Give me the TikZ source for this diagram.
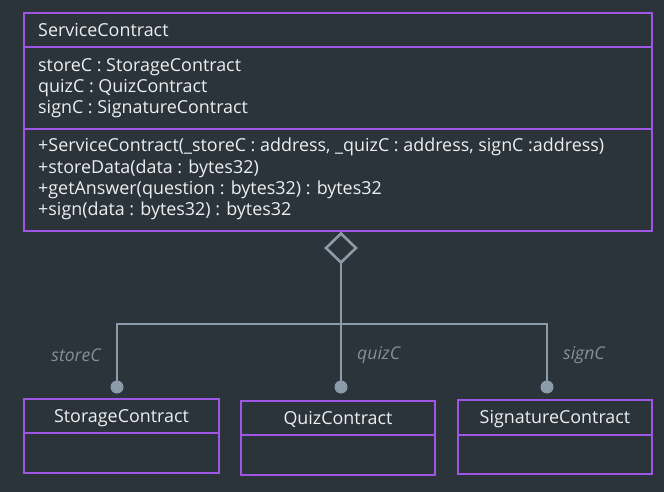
\documentclass[tikz,border=0pt]{standalone}
\usepackage{fontspec}
\setmainfont{Open Sans}
\usetikzlibrary{shapes.geometric,positioning}
\definecolor{bgdark}{RGB}{44,52,59}
\definecolor{umlpurple}{RGB}{160,86,228}
\definecolor{linkgray}{RGB}{140,155,170}
\definecolor{rolegray}{RGB}{135,142,150}
\definecolor{umltext}{RGB}{236,238,240}
\tikzset{
    compart/.style = {draw=umlpurple, line width=2.8pt, rectangle, anchor=north west,
                      inner sep=0pt, outer sep=0pt},
    member/.style  = {anchor=west, text=umltext, inner sep=0pt, align=left,
                      font=\fontsize{17.9}{21.3}\selectfont},
    cname/.style   = {text=umltext, inner sep=0pt, font=\fontsize{17.9}{20}\selectfont},
    role/.style    = {text=rolegray, inner sep=0pt, font=\itshape\fontsize{17.6}{20}\selectfont},
    link/.style    = {draw=linkgray, line width=2.6pt},
    aggr/.style    = {diamond, draw=linkgray, line width=2.6pt, fill=bgdark, inner sep=0pt,
                      minimum width=31pt, minimum height=30pt},
    enddot/.style  = {circle, fill=linkgray, inner sep=0pt, minimum size=13pt},
    hub/.style     = {coordinate}
}

\begin{document}
\begin{tikzpicture}[x=1pt, y=-1pt]
    \fill[bgdark] (0,0) rectangle (664,492);
    \useasboundingbox (0,0) rectangle (664,492);

    % service contract
    \node [compart, minimum width=628pt, minimum height=34pt]  (svc_name) at (24,13) {};
    \node [compart, minimum width=628pt, minimum height=82pt]  (svc_attr) at (svc_name.south west) {};
    \node [compart, minimum width=628pt, minimum height=102pt] (svc_ops)  at (svc_attr.south west) {};
    \node [member] (svc_title) at (38,30)  {ServiceContract};
    \node [member] (svc_vars)  at (38,88)  {storeC : StorageContract\\quizC : QuizContract\\signC : SignatureContract};
    \node [member] (svc_funs)  at (38,179) {+ServiceContract(\_storeC : address, \_quizC : address, signC :address)\\
                                            +storeData(data : bytes32)\\
                                            +getAnswer(question : bytes32) : bytes32\\
                                            +sign(data : bytes32) : bytes32};

    % parts
    \node [compart, minimum width=195pt, minimum height=34pt] (store_name) at (24,399)  {};
    \node [compart, minimum width=195pt, minimum height=40pt] (store_body) at (store_name.south west) {};
    \node [compart, minimum width=194pt, minimum height=34pt] (quiz_name)  at (241,401) {};
    \node [compart, minimum width=194pt, minimum height=40pt] (quiz_body)  at (quiz_name.south west) {};
    \node [compart, minimum width=194pt, minimum height=35pt] (sign_name)  at (458,400) {};
    \node [compart, minimum width=194pt, minimum height=39pt] (sign_body)  at (sign_name.south west) {};
    \node [cname, anchor=base] at ([yshift=-6pt]store_name.center) {StorageContract};
    \node [cname, anchor=base] at ([yshift=-6pt]quiz_name.center)  {QuizContract};
    \node [cname, anchor=base] at ([yshift=-6pt]sign_name.center)  {SignatureContract};

    % aggregation
    \node [aggr]   (agg)    at (341,248) {};
    \node [hub]    (hub)    at (341,324) {};
    \node [enddot] (dstore) at (117,387) {};
    \node [enddot] (dquiz)  at (341,387) {};
    \node [enddot] (dsign)  at (547,387) {};

    \draw [link] (agg.south) -- (hub);
    \draw [link] (hub) -| (dstore.center);
    \draw [link] (hub) -- (dquiz.center);
    \draw [link] (hub) -| (dsign.center);

    \node [role, anchor=east] (r_store) at (101,355) {storeC};
    \node [role, anchor=west] (r_quiz)  at (357,355) {quizC};
    \node [role, anchor=west] (r_sign)  at (563,355) {signC};
\end{tikzpicture}
\end{document}
